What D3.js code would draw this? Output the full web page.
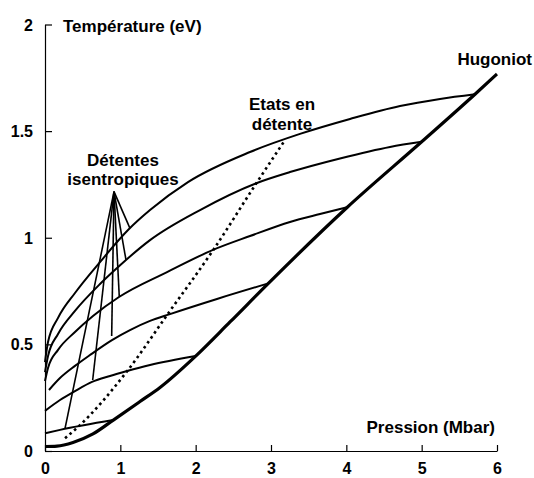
<!DOCTYPE html>
<html>
<head>
<meta charset="utf-8">
<script src="https://cdn.jsdelivr.net/npm/d3@7"></script>
<style>
  html, body { margin: 0; padding: 0; background: #fff; }
  svg { display: block; }
  text { font-family: "Liberation Sans", Arial, sans-serif; font-weight: bold; fill: #000; }
</style>
</head>
<body>
<svg id="chart" width="534" height="478"></svg>
<script>
// ---- Data (pressure in Mbar, temperature in eV) ----
const xTicks = [0, 1, 2, 3, 4, 5, 6];
const yTicks = [0, 0.5, 1, 1.5, 2];
const yTickLabels = ["0", "0.5", "1", "1.5", "2"];

const hugoniotP = [0, 0.159, 0.372, 0.637, 0.907, 1.261, 1.527, 2.0, 2.456, 2.965, 4.013, 5.0, 5.708, 6.0];
const hugoniotT = [0.021, 0.023, 0.040, 0.080, 0.145, 0.232, 0.298, 0.445, 0.605, 0.786, 1.143, 1.450, 1.673, 1.768];

const isen1P = [0, 0.04, 0.173, 0.398, 0.73, 1.115, 1.394, 1.898, 2.721, 3.385, 4.049, 4.713, 5.244, 5.708];
const isen1T = [0.417, 0.511, 0.624, 0.741, 0.886, 1.041, 1.130, 1.261, 1.402, 1.487, 1.557, 1.618, 1.651, 1.673];

const isen2P = [0, 0.04, 0.173, 0.398, 0.73, 0.956, 1.394, 2.058, 2.814, 3.252, 3.916, 4.58, 5.0];
const isen2T = [0.370, 0.445, 0.549, 0.657, 0.783, 0.858, 0.989, 1.130, 1.257, 1.308, 1.372, 1.426, 1.450];

const isen3P = [0, 0.04, 0.173, 0.398, 0.637, 0.982, 1.62, 2.23, 2.721, 3.252, 3.65, 4.013];
const isen3T = [0.328, 0.389, 0.474, 0.558, 0.633, 0.722, 0.839, 0.943, 1.008, 1.074, 1.111, 1.143];

const isen4P = [0.053, 0.199, 0.398, 0.597, 0.889, 1.128, 1.394, 1.659, 2.283, 2.965];
const isen4T = [0.286, 0.342, 0.399, 0.450, 0.520, 0.567, 0.610, 0.642, 0.713, 0.786];

const isen5P = [0, 0.199, 0.398, 0.624, 0.863, 1.089, 1.394, 2.0];
const isen5T = [0.188, 0.239, 0.281, 0.324, 0.352, 0.375, 0.403, 0.445];

const isen6P = [0, 0.2, 0.907];
const isen6T = [0.083, 0.099, 0.145];

const releaseP = [0.266, 0.442, 1.085, 1.637, 2.234, 2.81, 3.186];
const releaseT = [0.060, 0.114, 0.372, 0.646, 0.943, 1.258, 1.458];

// annotation pointer lines for "Détentes isentropiques"
const fanApex = [0.916, 1.216];
const fanEndP = [0.266, 0.633, 0.885, 0.986, 1.075, 1.128];
const fanEndT = [0.106, 0.333, 0.539, 0.724, 0.896, 1.044];

// ---- Drawing ----
const svg = d3.select("#chart");
const x = d3.scaleLinear().domain([0, 6]).range([45, 497]);
const y = d3.scaleLinear().domain([0, 2]).range([451, 24.5]);

const zip = (P, T) => P.map((p, i) => [p, T[i]]);
const line = d3.line().x(d => x(d[0])).y(d => y(d[1])).curve(d3.curveMonotoneX);
const straight = d3.line().x(d => x(d[0])).y(d => y(d[1]));

// axes
const xAxis = d3.axisBottom(x).tickValues(xTicks).tickFormat(d3.format("d"))
  .tickSizeInner(-6).tickSizeOuter(0);
const gx = svg.append("g").attr("transform", `translate(0,${y(0)})`).call(xAxis);
gx.selectAll("text").attr("y", 23).attr("dy", "0").style("font-size", "16px");

const yAxis = d3.axisLeft(y).tickValues(yTicks).tickFormat((d, i) => yTickLabels[i])
  .tickSizeInner(-7).tickSizeOuter(0);
const gy = svg.append("g").attr("transform", `translate(${x(0)},0)`).call(yAxis);
gy.selectAll("text").attr("x", -12).attr("dy", "0.35em").style("font-size", "16px");

[gx, gy].forEach(g => {
  g.selectAll("path.domain").attr("stroke", "#000").attr("stroke-width", 1.2);
  g.selectAll(".tick line").attr("stroke", "#000").attr("stroke-width", 1.2);
  g.selectAll("text").attr("fill", "#000").style("font-family", "'Liberation Sans', Arial, sans-serif").style("font-weight", "bold");
});

// isentropes
const isentropes = [zip(isen1P, isen1T), zip(isen2P, isen2T), zip(isen3P, isen3T),
                    zip(isen4P, isen4T), zip(isen5P, isen5T), zip(isen6P, isen6T)];
svg.append("g").selectAll("path").data(isentropes).join("path")
  .attr("d", line).attr("fill", "none").attr("stroke", "#000").attr("stroke-width", 2);

// release states (dotted)
svg.append("path").datum(zip(releaseP, releaseT))
  .attr("d", line).attr("fill", "none").attr("stroke", "#000")
  .attr("stroke-width", 2.6).attr("stroke-dasharray", "2.6,3.4");

// Hugoniot
svg.append("path").datum(zip(hugoniotP, hugoniotT))
  .attr("d", line).attr("fill", "none").attr("stroke", "#000").attr("stroke-width", 3.2);

// pointer lines
svg.append("g").selectAll("path").data(fanEndP.map((p, i) => [fanApex, [p, fanEndT[i]]])).join("path")
  .attr("d", straight).attr("fill", "none").attr("stroke", "#000").attr("stroke-width", 1.6);

// labels
const fs = "17px";
svg.append("text").attr("x", 63).attr("y", 31.5).style("font-size", fs).text("Température (eV)");
svg.append("text").attr("x", 495).attr("y", 433).attr("text-anchor", "end").style("font-size", fs).text("Pression (Mbar)");
svg.append("text").attr("x", 532).attr("y", 65).attr("text-anchor", "end").style("font-size", fs).text("Hugoniot");
svg.append("text").attr("x", 282).attr("y", 110).attr("text-anchor", "middle").style("font-size", fs).text("Etats en");
svg.append("text").attr("x", 282).attr("y", 130).attr("text-anchor", "middle").style("font-size", fs).text("détente");
svg.append("text").attr("x", 123).attr("y", 166).attr("text-anchor", "middle").style("font-size", fs).text("Détentes");
svg.append("text").attr("x", 123).attr("y", 185).attr("text-anchor", "middle").style("font-size", fs).text("isentropiques");
</script>
</body>
</html>
